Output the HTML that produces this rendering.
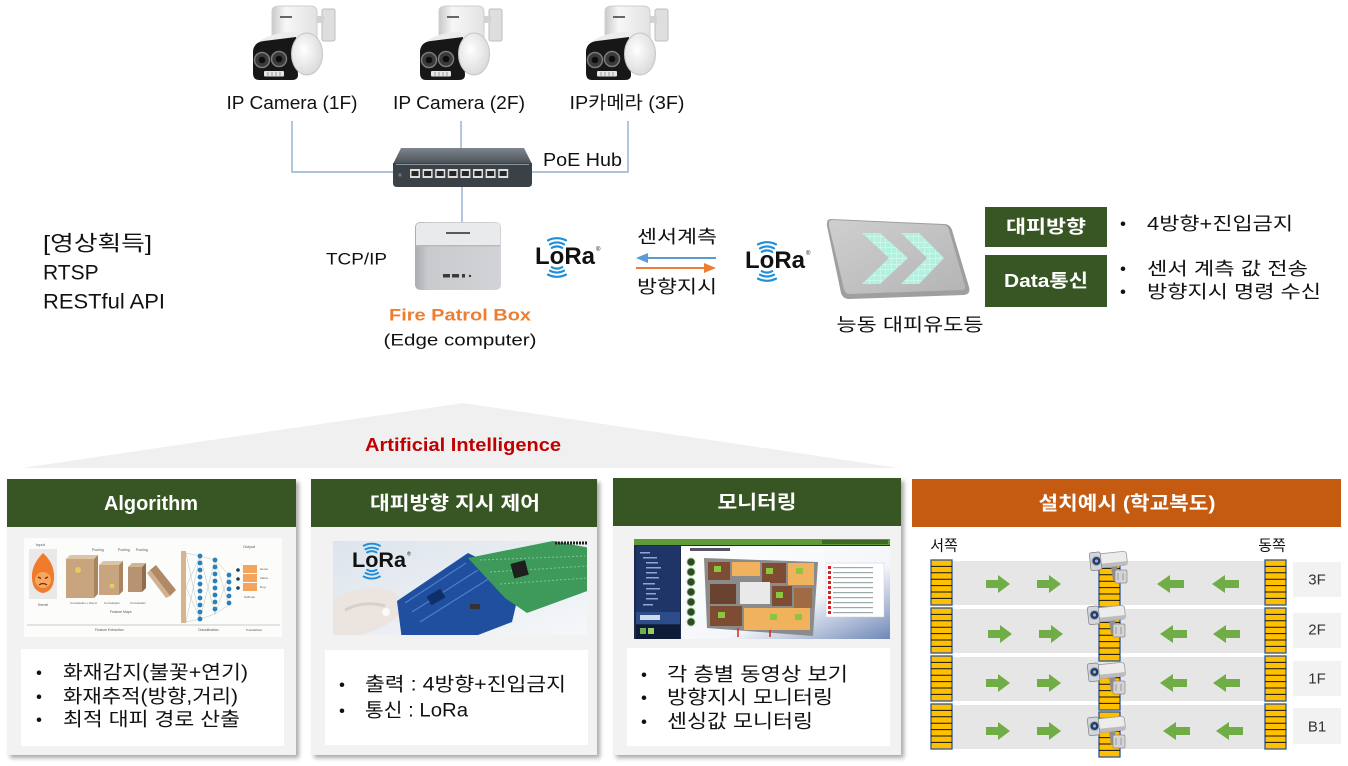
<!DOCTYPE html>
<html><head><meta charset="utf-8">
<style>
html,body{margin:0;padding:0;background:#fff;width:1348px;height:766px;overflow:hidden}
svg{display:block}
text{font-family:"Liberation Sans","Noto Sans CJK KR",sans-serif;}
</style></head><body>
<svg width="1348" height="766" viewBox="0 0 1348 766" xmlns="http://www.w3.org/2000/svg">
<defs>
 <filter id="sh" x="-5%" y="-5%" width="115%" height="115%"><feGaussianBlur stdDeviation="2.2"/></filter>
 <linearGradient id="hubTop" x1="0" y1="0" x2="0" y2="1"><stop offset="0" stop-color="#7d858c"/><stop offset="1" stop-color="#4a5157"/></linearGradient>
 <linearGradient id="silverF" x1="0" y1="0" x2="1" y2="0"><stop offset="0" stop-color="#a9abaf"/><stop offset="0.15" stop-color="#c9cacd"/><stop offset="1" stop-color="#d2d3d6"/></linearGradient>
 <linearGradient id="signG" x1="0" y1="0" x2="1" y2="1"><stop offset="0" stop-color="#cfcfcf"/><stop offset="1" stop-color="#b4b4b4"/></linearGradient>
 <linearGradient id="neckG" x1="0" y1="0" x2="1" y2="0"><stop offset="0" stop-color="#c9c9c9"/><stop offset="0.3" stop-color="#f7f7f7"/><stop offset="1" stop-color="#e2e2e2"/></linearGradient>
 <radialGradient id="discG" cx="0.4" cy="0.4" r="0.7"><stop offset="0" stop-color="#ffffff"/><stop offset="1" stop-color="#d6d6d6"/></radialGradient>
 <pattern id="cells" width="5.5" height="5.5" patternUnits="userSpaceOnUse"><rect width="5.5" height="5.5" fill="#b3f0e0"/><path d="M0 0H5.5M0 0V5.5" stroke="#e3fbf4" stroke-width="0.9"/></pattern>
 <linearGradient id="p2bg" x1="0" y1="0" x2="1" y2="1"><stop offset="0" stop-color="#dde4ec"/><stop offset="1" stop-color="#f5f7f9"/></linearGradient>
 <linearGradient id="p3main" x1="0" y1="0" x2="1" y2="1"><stop offset="0" stop-color="#ffffff"/><stop offset="0.6" stop-color="#f4f6fa"/><stop offset="1" stop-color="#6f88b8"/></linearGradient>
 <clipPath id="c1"><rect x="24" y="538" width="258" height="99"/></clipPath>
 <clipPath id="c2"><rect x="333" y="541" width="254" height="94"/></clipPath>
 <clipPath id="c3"><rect x="634" y="539" width="256" height="100"/></clipPath>

 <g id="cam">
  <rect x="72" y="4" width="13" height="32" rx="2" fill="#dedede" stroke="#bdbdbd"/>
  <rect x="62" y="11" width="12" height="7" fill="#d2d2d2"/>
  <path d="M22 6 Q22 1 30 1 L60 1 Q67 1 67 7 L67 34 L22 36 Z" fill="url(#neckG)" stroke="#cfcfcf"/>
  <rect x="30" y="11" width="12" height="2" fill="#666"/>
  <path d="M5 42 Q12 29 40 27 L58 29 L58 42Z" fill="#ececec"/>
  <path d="M3 46 Q4 37 14 36 L46 32 L48 70 Q48 75 42 75 L9 75 Q3 75 3 68 Z" fill="#171717"/>
  <ellipse cx="57" cy="49" rx="15.5" ry="21" fill="url(#discG)" stroke="#c6c6c6"/>
  <circle cx="12" cy="55" r="7.5" fill="#3a3a3a" stroke="#7a7a7a" stroke-width="1.5"/>
  <circle cx="12" cy="55" r="3.3" fill="#0d0d0d"/>
  <circle cx="29" cy="54" r="7.5" fill="#3a3a3a" stroke="#7a7a7a" stroke-width="1.5"/>
  <circle cx="29" cy="54" r="3.3" fill="#0d0d0d"/>
  <rect x="14" y="66" width="20" height="5.5" rx="1" fill="#e6e6e6"/>
  <path d="M18 67v4M22 67v4M26 67v4M30 67v4" stroke="#999" stroke-width="1"/>
 </g>

 <g id="lora">
  <text x="0" y="0" font-size="24" font-weight="bold" fill="#111">LoRa</text>
  <text x="61" y="-13" font-size="6" fill="#111">®</text>
  <g fill="none" stroke="#1e8fd8" stroke-width="2.2" stroke-linecap="round">
   <path d="M16.8 -16.2 A11 11 0 0 1 27.2 -16.2"/>
   <path d="M15 -19.7 A15 15 0 0 1 29 -19.7"/>
   <path d="M13 -23.6 A19.5 19.5 0 0 1 31 -23.6"/>
   <path d="M16.8 3.2 A11 11 0 0 0 27.2 3.2"/>
   <path d="M15 6.7 A15 15 0 0 0 29 6.7"/>
   <path d="M13 10.6 A19.5 19.5 0 0 0 31 10.6"/>
  </g>
 </g>

 <g id="pil">
  <rect x="0" y="0" width="21" height="45" fill="#ffc000" stroke="#2f5597" stroke-width="1.3"/>
  <path d="M0 6.4h21M0 12.8h21M0 19.2h21M0 25.6h21M0 32h21M0 38.4h21" stroke="#111" stroke-width="1"/>
 </g>
 <path id="ra" d="M0 5 H12 V0 L24 9 L12 18 V13 H0 Z" fill="#70ad47"/>
 <path id="la" d="M27 5 H13 V0 L0 9 L13 18 V13 H27 Z" fill="#70ad47"/>

 <g id="cctv">
  <path d="M21 15 L23 29 L28 29 L27 15Z" fill="#8e8e8e"/>
  <rect x="25" y="19" width="12" height="13" rx="1.5" fill="#d4d4d4" stroke="#8a8a8a" stroke-width="0.7"/>
  <path d="M28 22v7M33 22v7" stroke="#9a9a9a" stroke-width="1"/>
  <g transform="rotate(-6 18 9)">
   <rect x="3" y="2" width="34" height="14" rx="3" fill="#ececec" stroke="#9c9c9c" stroke-width="0.8"/>
   <rect x="3" y="12" width="34" height="4" rx="1" fill="#bcbcbc"/>
   <rect x="0" y="0" width="11" height="18" rx="2" fill="#d3d7dc" stroke="#7f7f7f" stroke-width="0.7"/>
  </g>
  <circle cx="6.5" cy="10" r="4.6" fill="#2b3b5a" stroke="#a9b6c8" stroke-width="1.1"/>
  <circle cx="6.5" cy="10" r="1.6" fill="#8fb0d8"/>
 </g>
</defs>

<rect width="1348" height="766" fill="#fff"/>

<!-- ================= TOP ================= -->
<use href="#cam" x="250" y="5"/>
<use href="#cam" x="417" y="5"/>
<use href="#cam" x="583" y="5"/>

<text x="292" y="103" text-anchor="middle" dominant-baseline="central" font-size="18" textLength="131" lengthAdjust="spacingAndGlyphs" fill="#111">IP Camera (1F)</text>
<text x="459" y="103" text-anchor="middle" dominant-baseline="central" font-size="18" textLength="132" lengthAdjust="spacingAndGlyphs" fill="#111">IP Camera (2F)</text>
<text x="627" y="103" text-anchor="middle" dominant-baseline="central" font-size="18" textLength="115" lengthAdjust="spacingAndGlyphs" fill="#111">IP카메라 (3F)</text>

<g stroke="#7f9fc6" stroke-width="1.2" fill="none">
 <path d="M292 121 V172 H393"/>
 <path d="M461 121 V148"/>
 <path d="M628 121 V172 H532"/>
 <path d="M462 187 V222"/>
</g>

<!-- hub -->
<path d="M401 148 L524 148 L532 164 L393 164 Z" fill="url(#hubTop)"/>
<path d="M393 163 L532 163 L532 183 Q532 187 528 187 L397 187 Q393 187 393 183Z" fill="#3b4247"/>
<rect x="396" y="164" width="133" height="1" fill="#8d959c"/>
<g>
 <rect x="410" y="169" width="10" height="9" fill="#dedede"/><rect x="411.5" y="171" width="7" height="5" fill="#262626"/>
 <rect x="422.6" y="169" width="10" height="9" fill="#dedede"/><rect x="424.1" y="171" width="7" height="5" fill="#262626"/>
 <rect x="435.2" y="169" width="10" height="9" fill="#dedede"/><rect x="436.7" y="171" width="7" height="5" fill="#262626"/>
 <rect x="447.8" y="169" width="10" height="9" fill="#dedede"/><rect x="449.3" y="171" width="7" height="5" fill="#262626"/>
 <rect x="460.4" y="169" width="10" height="9" fill="#dedede"/><rect x="461.9" y="171" width="7" height="5" fill="#262626"/>
 <rect x="473" y="169" width="10" height="9" fill="#dedede"/><rect x="474.5" y="171" width="7" height="5" fill="#262626"/>
 <rect x="485.6" y="169" width="10" height="9" fill="#dedede"/><rect x="487.1" y="171" width="7" height="5" fill="#262626"/>
 <rect x="498.2" y="169" width="10" height="9" fill="#dedede"/><rect x="499.7" y="171" width="7" height="5" fill="#262626"/>
 <circle cx="400" cy="175" r="1.6" fill="#6d767e"/>
</g>
<text x="543" y="160" dominant-baseline="central" font-size="18" textLength="79" lengthAdjust="spacingAndGlyphs" fill="#111">PoE Hub</text>

<!-- edge computer -->
<path d="M421 222 L495 222 Q501 222 501 228 L501 284 Q501 290 495 290 L421 290 Q415 290 415 284 L415 228 Q415 222 421 222Z" fill="url(#silverF)"/>
<path d="M420 223 L496 223 Q500 223 500 227 L500 246 L416 246 L416 227 Q416 223 420 223Z" fill="#e9eaec"/>
<rect x="416" y="245" width="84" height="1.5" fill="#b8b9bc"/>
<rect x="446" y="232" width="24" height="2" fill="#5a5a5a"/>
<rect x="443" y="274" width="7" height="3.5" fill="#3a3a3a"/>
<rect x="452" y="274" width="7" height="3.5" fill="#3a3a3a"/>
<rect x="462" y="274" width="3" height="3.5" fill="#3a3a3a"/>
<circle cx="470" cy="276" r="1.2" fill="#3a3a3a"/>
<text x="326" y="259" dominant-baseline="central" font-size="17" textLength="61" lengthAdjust="spacingAndGlyphs" fill="#111">TCP/IP</text>
<text x="460" y="315" text-anchor="middle" dominant-baseline="central" font-size="17" font-weight="bold" textLength="142" lengthAdjust="spacingAndGlyphs" fill="#ed7d31">Fire Patrol Box</text>
<text x="460" y="340" text-anchor="middle" dominant-baseline="central" font-size="17" textLength="153" lengthAdjust="spacingAndGlyphs" fill="#111">(Edge computer)</text>

<!-- LoRa + arrows -->
<use href="#lora" x="535" y="264"/>
<use href="#lora" x="745" y="268"/>
<text x="677" y="237" text-anchor="middle" dominant-baseline="central" font-size="18" textLength="80" lengthAdjust="spacingAndGlyphs" fill="#111">센서계측</text>
<text x="677" y="287" text-anchor="middle" dominant-baseline="central" font-size="18" textLength="80" lengthAdjust="spacingAndGlyphs" fill="#111">방향지시</text>
<path d="M716 258 H646" stroke="#5b9bd5" stroke-width="2"/>
<path d="M636 258 L648 253 L648 263Z" fill="#5b9bd5"/>
<path d="M636 268 H706" stroke="#ed7d31" stroke-width="2"/>
<path d="M716 268 L704 263 L704 273Z" fill="#ed7d31"/>

<!-- sign -->
<path d="M831 219 L944 224 Q950 224 952 230 L969 287 Q971 294 964 295 L849 299 Q843 299 841 293 L827 226 Q826 219 831 219Z" fill="#9f9f9f"/>
<path d="M832 220 L943 225 Q948 225 949 230 L965 286 Q966 290 961 290 L850 294 Q845 294 844 289 L829 226 Q828 220 832 220Z" fill="url(#signG)"/>
<path d="M862 233 L880 233 L908 258 L880 284 L862 284 L889 258Z" fill="url(#cells)"/>
<path d="M901 233 L919 233 L944 258 L919 284 L901 284 L927 258Z" fill="url(#cells)"/>
<text x="910" y="325" text-anchor="middle" dominant-baseline="central" font-size="18" textLength="147" lengthAdjust="spacingAndGlyphs" fill="#111">능동 대피유도등</text>

<!-- badges -->
<rect x="985" y="207" width="122" height="40" fill="#375623"/>
<rect x="985" y="255" width="122" height="52" fill="#375623"/>
<text x="1046" y="227" text-anchor="middle" dominant-baseline="central" font-size="18" font-weight="bold" textLength="80" lengthAdjust="spacingAndGlyphs" fill="#fff">대피방향</text>
<text x="1046" y="281" text-anchor="middle" dominant-baseline="central" font-size="18" font-weight="bold" textLength="84" lengthAdjust="spacingAndGlyphs" fill="#fff">Data통신</text>
<g font-size="18" fill="#111">
 <text x="1120" y="224" dominant-baseline="central" font-size="17">•</text>
 <text x="1147" y="224" dominant-baseline="central" textLength="146" lengthAdjust="spacingAndGlyphs">4방향+진입금지</text>
 <text x="1120" y="269" dominant-baseline="central" font-size="17">•</text>
 <text x="1147" y="269" dominant-baseline="central" textLength="161" lengthAdjust="spacingAndGlyphs">센서 계측 값 전송</text>
 <text x="1120" y="292" dominant-baseline="central" font-size="17">•</text>
 <text x="1147" y="292" dominant-baseline="central" textLength="174" lengthAdjust="spacingAndGlyphs">방향지시 명령 수신</text>
</g>

<!-- left text -->
<g font-size="21" fill="#111">
 <text x="43" y="244" dominant-baseline="central" textLength="109" lengthAdjust="spacingAndGlyphs">[영상획득]</text>
 <text x="43" y="273" dominant-baseline="central">RTSP</text>
 <text x="43" y="302" dominant-baseline="central" textLength="122" lengthAdjust="spacingAndGlyphs">RESTful API</text>
</g>

<!-- ================= AI triangle ================= -->
<path d="M463 403 L898 468 L22 468 Z" fill="#f0f0f0"/>
<text x="463" y="445" text-anchor="middle" dominant-baseline="central" font-size="18" font-weight="bold" textLength="196" lengthAdjust="spacingAndGlyphs" fill="#c00000">Artificial  Intelligence</text>

<!-- panel shadows -->
<g fill="#8c8c8c" opacity="0.75" filter="url(#sh)">
 <rect x="10" y="482" width="289" height="276"/>
 <rect x="314" y="482" width="286" height="276"/>
 <rect x="616" y="481" width="288" height="277"/>
</g>

<!-- panel 1 -->
<rect x="7" y="479" width="289" height="276" fill="#f2f2f2"/>
<rect x="7" y="479" width="289" height="48" fill="#375623"/>
<text x="151" y="504" text-anchor="middle" dominant-baseline="central" font-size="20" font-weight="bold" textLength="94" lengthAdjust="spacingAndGlyphs" fill="#fff">Algorithm</text>
<g clip-path="url(#c1)">
 <rect x="24" y="538" width="258" height="99" fill="#fcfcfb"/>
 <text x="36" y="546" font-size="4" fill="#555">Input</text>
 <rect x="29" y="549" width="28" height="50" fill="#e9e9e9"/>
 <path d="M43 553 Q53 562 54 574 Q55 591 43 593 Q31 591 32 574 Q33 563 43 553Z" fill="#ef7b2b"/>
 <ellipse cx="43" cy="580" rx="8" ry="8" fill="#f6a860"/>
 <path d="M38 577 L41 578.5 M45 578.5 L48 577" stroke="#7a2b0a" stroke-width="1.4"/>
 <path d="M39 585 Q43 582 47 585" stroke="#7a2b0a" fill="none" stroke-width="1.2"/>
 <text x="38" y="606" font-size="3.5" fill="#555">Kernel</text>
 <path d="M66 559 L70 555 L98 555 L94 559Z" fill="#dcc4a6"/>
 <path d="M94 559 L98 555 L98 594 L94 598Z" fill="#a8845f"/>
 <rect x="66" y="559" width="28" height="39" fill="#c8a57e"/>
 <path d="M99 565 L103 561 L123 561 L119 565Z" fill="#dcc4a6"/>
 <path d="M119 565 L123 561 L123 591 L119 595Z" fill="#a8845f"/>
 <rect x="99" y="565" width="20" height="30" fill="#c8a57e"/>
 <path d="M128 567 L132 563 L146 563 L142 567Z" fill="#d2b494"/>
 <path d="M142 567 L146 563 L146 588 L142 592Z" fill="#8f6d4d"/>
 <rect x="128" y="567" width="14" height="25" fill="#b79371"/>
 <path d="M150 570 L156 565 L176 590 L170 596Z" fill="#b08a66"/>
 <path d="M150 570 L170 596 L166 598 L147 573Z" fill="#d0b290"/>
 <circle cx="78" cy="570" r="3" fill="#e9d45a" opacity="0.8"/>
 <circle cx="112" cy="586" r="2.5" fill="#e9d45a" opacity="0.8"/>
 <text x="92" y="551" font-size="3.5" fill="#555">Pooling</text>
 <text x="118" y="551" font-size="3.5" fill="#555">Pooling</text>
 <text x="136" y="551" font-size="3.5" fill="#555">Pooling</text>
 <text x="70" y="604" font-size="3" fill="#555">Convolution + ReLU</text>
 <text x="104" y="604" font-size="3" fill="#555">Convolution</text>
 <text x="130" y="604" font-size="3" fill="#555">Convolution</text>
 <rect x="181" y="551" width="5" height="72" fill="#d6b48c"/>
 <g stroke="#9aa" stroke-width="0.35">
  <path d="M186 553 L200 556 M186 622 L200 619 M186 553 L200 619 M186 622 L200 556 M186 587 L200 556 M186 587 L200 619"/>
  <path d="M200 556 L215 560 M200 619 L215 614 M200 556 L215 614 M200 619 L215 560 M215 560 L229 575 M215 614 L229 605 M215 560 L229 605 M215 614 L229 575"/>
 </g>
 <g fill="#2c80b8">
  <circle cx="200" cy="556" r="2.4"/><circle cx="200" cy="563" r="2.4"/><circle cx="200" cy="570" r="2.4"/><circle cx="200" cy="577" r="2.4"/><circle cx="200" cy="584" r="2.4"/><circle cx="200" cy="591" r="2.4"/><circle cx="200" cy="598" r="2.4"/><circle cx="200" cy="605" r="2.4"/><circle cx="200" cy="612" r="2.4"/><circle cx="200" cy="619" r="2.4"/>
  <circle cx="215" cy="560" r="2.4"/><circle cx="215" cy="567" r="2.4"/><circle cx="215" cy="574" r="2.4"/><circle cx="215" cy="581" r="2.4"/><circle cx="215" cy="588" r="2.4"/><circle cx="215" cy="595" r="2.4"/><circle cx="215" cy="602" r="2.4"/><circle cx="215" cy="609" r="2.4"/>
  <circle cx="229" cy="575" r="2.4"/><circle cx="229" cy="582" r="2.4"/><circle cx="229" cy="589" r="2.4"/><circle cx="229" cy="596" r="2.4"/><circle cx="229" cy="603" r="2.4"/>
 </g>
 <g fill="#1a3d5c"><circle cx="238" cy="570" r="1.8"/><circle cx="238" cy="579" r="1.8"/><circle cx="238" cy="588" r="1.8"/></g>
 <rect x="243" y="565" width="14" height="8" fill="#f3a55e"/>
 <rect x="243" y="574" width="14" height="8" fill="#f3a55e"/>
 <rect x="243" y="583" width="14" height="8" fill="#f3a55e"/>
 <text x="243" y="548" font-size="4" fill="#555">Output</text>
 <text x="260" y="570" font-size="3" fill="#555">Horse</text>
 <text x="260" y="579" font-size="3" fill="#555">Zebra</text>
 <text x="260" y="588" font-size="3" fill="#555">Dog</text>
 <text x="244" y="598" font-size="3" fill="#555">Softmax</text>
 <text x="110" y="613" font-size="3.5" fill="#555">Feature Maps</text>
 <path d="M27 625 H280" stroke="#999" stroke-width="0.5"/>
 <text x="95" y="631" font-size="3.5" fill="#555">Feature Extraction</text>
 <text x="198" y="631" font-size="3.5" fill="#555">Classification</text>
 <text x="246" y="631" font-size="3" fill="#555">Probabilistic</text>
</g>
<rect x="21" y="649" width="263" height="97" fill="#fff"/>
<g font-size="19" fill="#111">
 <text x="36" y="673" dominant-baseline="central" font-size="17">•</text>
 <text x="63" y="673" dominant-baseline="central" textLength="185" lengthAdjust="spacingAndGlyphs">화재감지(불꽃+연기)</text>
 <text x="36" y="697" dominant-baseline="central" font-size="17">•</text>
 <text x="63" y="697" dominant-baseline="central" textLength="175" lengthAdjust="spacingAndGlyphs">화재추적(방향,거리)</text>
 <text x="36" y="720" dominant-baseline="central" font-size="17">•</text>
 <text x="63" y="720" dominant-baseline="central" textLength="177" lengthAdjust="spacingAndGlyphs">최적 대피 경로 산출</text>
</g>

<!-- panel 2 -->
<rect x="311" y="479" width="286" height="276" fill="#f2f2f2"/>
<rect x="311" y="479" width="286" height="48" fill="#375623"/>
<text x="455" y="504" text-anchor="middle" dominant-baseline="central" font-size="19" font-weight="bold" textLength="170" lengthAdjust="spacingAndGlyphs" fill="#fff">대피방향 지시 제어</text>
<g clip-path="url(#c2)">
 <rect x="333" y="541" width="254" height="94" fill="url(#p2bg)"/>
 <path d="M333 598 Q362 584 392 590 Q408 600 398 616 Q372 638 333 638Z" fill="#ece5df"/>
 <path d="M345 610 Q365 600 385 606" stroke="#d8cfc7" stroke-width="3" fill="none"/>
 <circle cx="386" cy="612" r="4" fill="#fafafa"/>
 <path d="M397 601 L468 553 L522 580 L512 622 L452 645 L402 640Z" fill="#1f4f9e"/>
 <path d="M405 603 L466 563 M412 612 L478 570 M420 622 L490 578" stroke="#4f7fc6" stroke-width="1.2"/>
 <rect x="428" y="592" width="16" height="10" fill="#0f2f6a" transform="rotate(-30 436 597)"/>
 <rect x="470" y="604" width="10" height="5" fill="#333"/>
 <path d="M468 558 L553 541 L590 548 L590 590 L527 613 L505 598Z" fill="#3e9a5b"/>
 <path d="M480 560 L585 556 M490 572 L588 566 M500 584 L588 578" stroke="#7cc58f" stroke-width="1" stroke-dasharray="2 2"/>
 <rect x="512" y="562" width="15" height="15" fill="#1f1f1f" transform="rotate(-15 519 569)"/>
 <path d="M555 543 L590 543" stroke="#222" stroke-width="3" stroke-dasharray="2 1"/>
 <use href="#lora" transform="translate(352 567) scale(0.9)"/>
</g>
<rect x="325" y="650" width="263" height="95" fill="#fff"/>
<g font-size="19" fill="#111">
 <text x="339" y="685" dominant-baseline="central" font-size="17">•</text>
 <text x="365" y="685" dominant-baseline="central" textLength="201" lengthAdjust="spacingAndGlyphs">출력 : 4방향+진입금지</text>
 <text x="339" y="711" dominant-baseline="central" font-size="17">•</text>
 <text x="365" y="711" dominant-baseline="central" textLength="103" lengthAdjust="spacingAndGlyphs">통신 : LoRa</text>
</g>

<!-- panel 3 -->
<rect x="613" y="478" width="288" height="277" fill="#f2f2f2"/>
<rect x="613" y="478" width="288" height="48" fill="#375623"/>
<text x="757" y="503" text-anchor="middle" dominant-baseline="central" font-size="19" font-weight="bold" textLength="79" lengthAdjust="spacingAndGlyphs" fill="#fff">모니터링</text>
<g clip-path="url(#c3)">
 <rect x="634" y="539" width="256" height="100" fill="#1c2a4d"/>
 <rect x="634" y="539" width="256" height="6" fill="#5f9b36"/>
 <rect x="822" y="540" width="66" height="4" fill="#3c6a26"/>
 <rect x="636" y="546" width="44" height="66" fill="#1f3568"/>
 <g fill="#8fa6d0">
  <rect x="640" y="552" width="10" height="1.5"/><rect x="643" y="557" width="14" height="1.5"/><rect x="646" y="562" width="12" height="1.5"/>
  <rect x="646" y="567" width="15" height="1.5"/><rect x="646" y="572" width="11" height="1.5"/><rect x="646" y="577" width="13" height="1.5"/>
  <rect x="643" y="583" width="12" height="1.5"/><rect x="646" y="588" width="14" height="1.5"/><rect x="646" y="593" width="10" height="1.5"/>
  <rect x="646" y="598" width="12" height="1.5"/><rect x="643" y="604" width="10" height="1.5"/>
 </g>
 <rect x="636" y="612" width="44" height="12" fill="#2d4c8a"/>
 <rect x="640" y="615" width="20" height="5" fill="#cfd8ea"/>
 <rect x="636" y="625" width="44" height="14" fill="#0f1c38"/>
 <rect x="640" y="628" width="6" height="6" fill="#6fb04a"/><rect x="648" y="628" width="6" height="6" fill="#9ccc65"/>
 <rect x="681" y="546" width="209" height="93" fill="url(#p3main)"/>
 <rect x="690" y="548" width="40" height="3" fill="#556"/>
 <g fill="#2f4a2a" stroke="#9fcf8a" stroke-width="0.8">
  <circle cx="691" cy="562" r="4"/><circle cx="691" cy="572" r="4"/><circle cx="691" cy="582" r="4"/><circle cx="691" cy="592" r="4"/><circle cx="691" cy="602" r="4"/><circle cx="691" cy="612" r="4"/><circle cx="691" cy="622" r="4"/>
 </g>
 <path d="M704 558 L818 562 L813 636 L707 628 Z" fill="#8b8b8b"/>
 <rect x="708" y="562" width="22" height="18" fill="#7d4c32"/>
 <rect x="732" y="562" width="28" height="14" fill="#f1b25d"/>
 <rect x="762" y="563" width="24" height="20" fill="#7d4c32"/>
 <rect x="788" y="563" width="26" height="22" fill="#f1b25d"/>
 <rect x="740" y="582" width="30" height="22" fill="#e9e9e9"/>
 <rect x="772" y="586" width="20" height="20" fill="#7d4c32"/>
 <rect x="794" y="588" width="18" height="20" fill="#a06a44"/>
 <rect x="710" y="584" width="26" height="20" fill="#6a4330"/>
 <rect x="710" y="606" width="32" height="20" fill="#7d4c32"/>
 <rect x="744" y="608" width="66" height="22" fill="#f1b25d"/>
 <g fill="#8cc63f"><rect x="714" y="566" width="7" height="6"/><rect x="766" y="568" width="7" height="6"/><rect x="796" y="568" width="7" height="6"/><rect x="776" y="592" width="7" height="6"/><rect x="718" y="612" width="7" height="6"/><rect x="770" y="614" width="7" height="6"/><rect x="795" y="614" width="7" height="6"/></g>
 <path d="M738 628 V637 M770 630 V637" stroke="#d22" stroke-width="1.5"/>
 <rect x="826" y="563" width="58" height="54" fill="#fff" stroke="#ccd" stroke-width="0.5"/>
 <g fill="#d42222"><rect x="828" y="566" width="3" height="3"/><rect x="828" y="571" width="3" height="3"/><rect x="828" y="576" width="3" height="3"/><rect x="828" y="581" width="3" height="3"/><rect x="828" y="586" width="3" height="3"/><rect x="828" y="591" width="3" height="3"/><rect x="828" y="596" width="3" height="3"/><rect x="828" y="601" width="3" height="3"/><rect x="828" y="606" width="3" height="3"/><rect x="828" y="611" width="3" height="3"/></g>
 <g fill="#9aa"><rect x="833" y="567" width="40" height="1.2"/><rect x="833" y="572" width="40" height="1.2"/><rect x="833" y="577" width="40" height="1.2"/><rect x="833" y="582" width="40" height="1.2"/><rect x="833" y="587" width="40" height="1.2"/><rect x="833" y="592" width="40" height="1.2"/><rect x="833" y="597" width="40" height="1.2"/><rect x="833" y="602" width="40" height="1.2"/><rect x="833" y="607" width="40" height="1.2"/><rect x="833" y="612" width="40" height="1.2"/></g>
</g>
<rect x="627" y="648" width="263" height="98" fill="#fff"/>
<g font-size="19" fill="#111">
 <text x="641" y="675" dominant-baseline="central" font-size="17">•</text>
 <text x="667" y="675" dominant-baseline="central" textLength="181" lengthAdjust="spacingAndGlyphs">각 층별 동영상 보기</text>
 <text x="641" y="698" dominant-baseline="central" font-size="17">•</text>
 <text x="667" y="698" dominant-baseline="central" textLength="166" lengthAdjust="spacingAndGlyphs">방향지시 모니터링</text>
 <text x="641" y="722" dominant-baseline="central" font-size="17">•</text>
 <text x="667" y="722" dominant-baseline="central" textLength="146" lengthAdjust="spacingAndGlyphs">센싱값 모니터링</text>
</g>

<!-- ================= panel 4 ================= -->
<rect x="912" y="479" width="429" height="48" fill="#c55a11"/>
<text x="1127" y="504" text-anchor="middle" dominant-baseline="central" font-size="19" font-weight="bold" textLength="177" lengthAdjust="spacingAndGlyphs" fill="#fff">설치예시 (학교복도)</text>
<text x="944" y="546" text-anchor="middle" dominant-baseline="central" font-size="15" fill="#111">서쪽</text>
<text x="1272" y="546" text-anchor="middle" dominant-baseline="central" font-size="15" fill="#111">동쪽</text>

<g fill="#e7e6e6">
 <rect x="935" y="561" width="348" height="44"/>
 <rect x="935" y="609" width="348" height="44"/>
 <rect x="935" y="657" width="348" height="44"/>
 <rect x="935" y="705" width="348" height="44"/>
</g>
<g fill="#f2f2f2">
 <rect x="1293" y="562" width="48" height="35"/>
 <rect x="1293" y="613" width="48" height="35"/>
 <rect x="1293" y="661" width="48" height="35"/>
 <rect x="1293" y="708" width="48" height="36"/>
</g>
<g font-size="15" fill="#333" text-anchor="middle" dominant-baseline="central">
 <text x="1317" y="580">3F</text>
 <text x="1317" y="630">2F</text>
 <text x="1317" y="679">1F</text>
 <text x="1317" y="727">B1</text>
</g>

<use href="#pil" x="931" y="560"/>
<use href="#pil" x="931" y="608"/>
<use href="#pil" x="931" y="656"/>
<use href="#pil" x="931" y="704"/>
<use href="#pil" x="1265" y="560"/>
<use href="#pil" x="1265" y="608"/>
<use href="#pil" x="1265" y="656"/>
<use href="#pil" x="1265" y="704"/>
<use href="#pil" x="1099" y="562"/>
<use href="#pil" x="1099" y="616"/>
<use href="#pil" x="1099" y="665"/>
<use href="#pil" x="1099" y="712"/>

<use href="#ra" x="986" y="575"/><use href="#ra" x="1037" y="575"/>
<use href="#la" x="1157" y="575"/><use href="#la" x="1212" y="575"/>
<use href="#ra" x="988" y="625"/><use href="#ra" x="1039" y="625"/>
<use href="#la" x="1160" y="625"/><use href="#la" x="1213" y="625"/>
<use href="#ra" x="986" y="674"/><use href="#ra" x="1037" y="674"/>
<use href="#la" x="1160" y="674"/><use href="#la" x="1213" y="674"/>
<use href="#ra" x="986" y="722"/><use href="#ra" x="1037" y="722"/>
<use href="#la" x="1163" y="722"/><use href="#la" x="1216" y="722"/>

<use href="#cctv" x="1090" y="551"/>
<use href="#cctv" x="1088" y="605"/>
<use href="#cctv" x="1088" y="662"/>
<use href="#cctv" x="1088" y="716"/>
</svg>
</body></html>
